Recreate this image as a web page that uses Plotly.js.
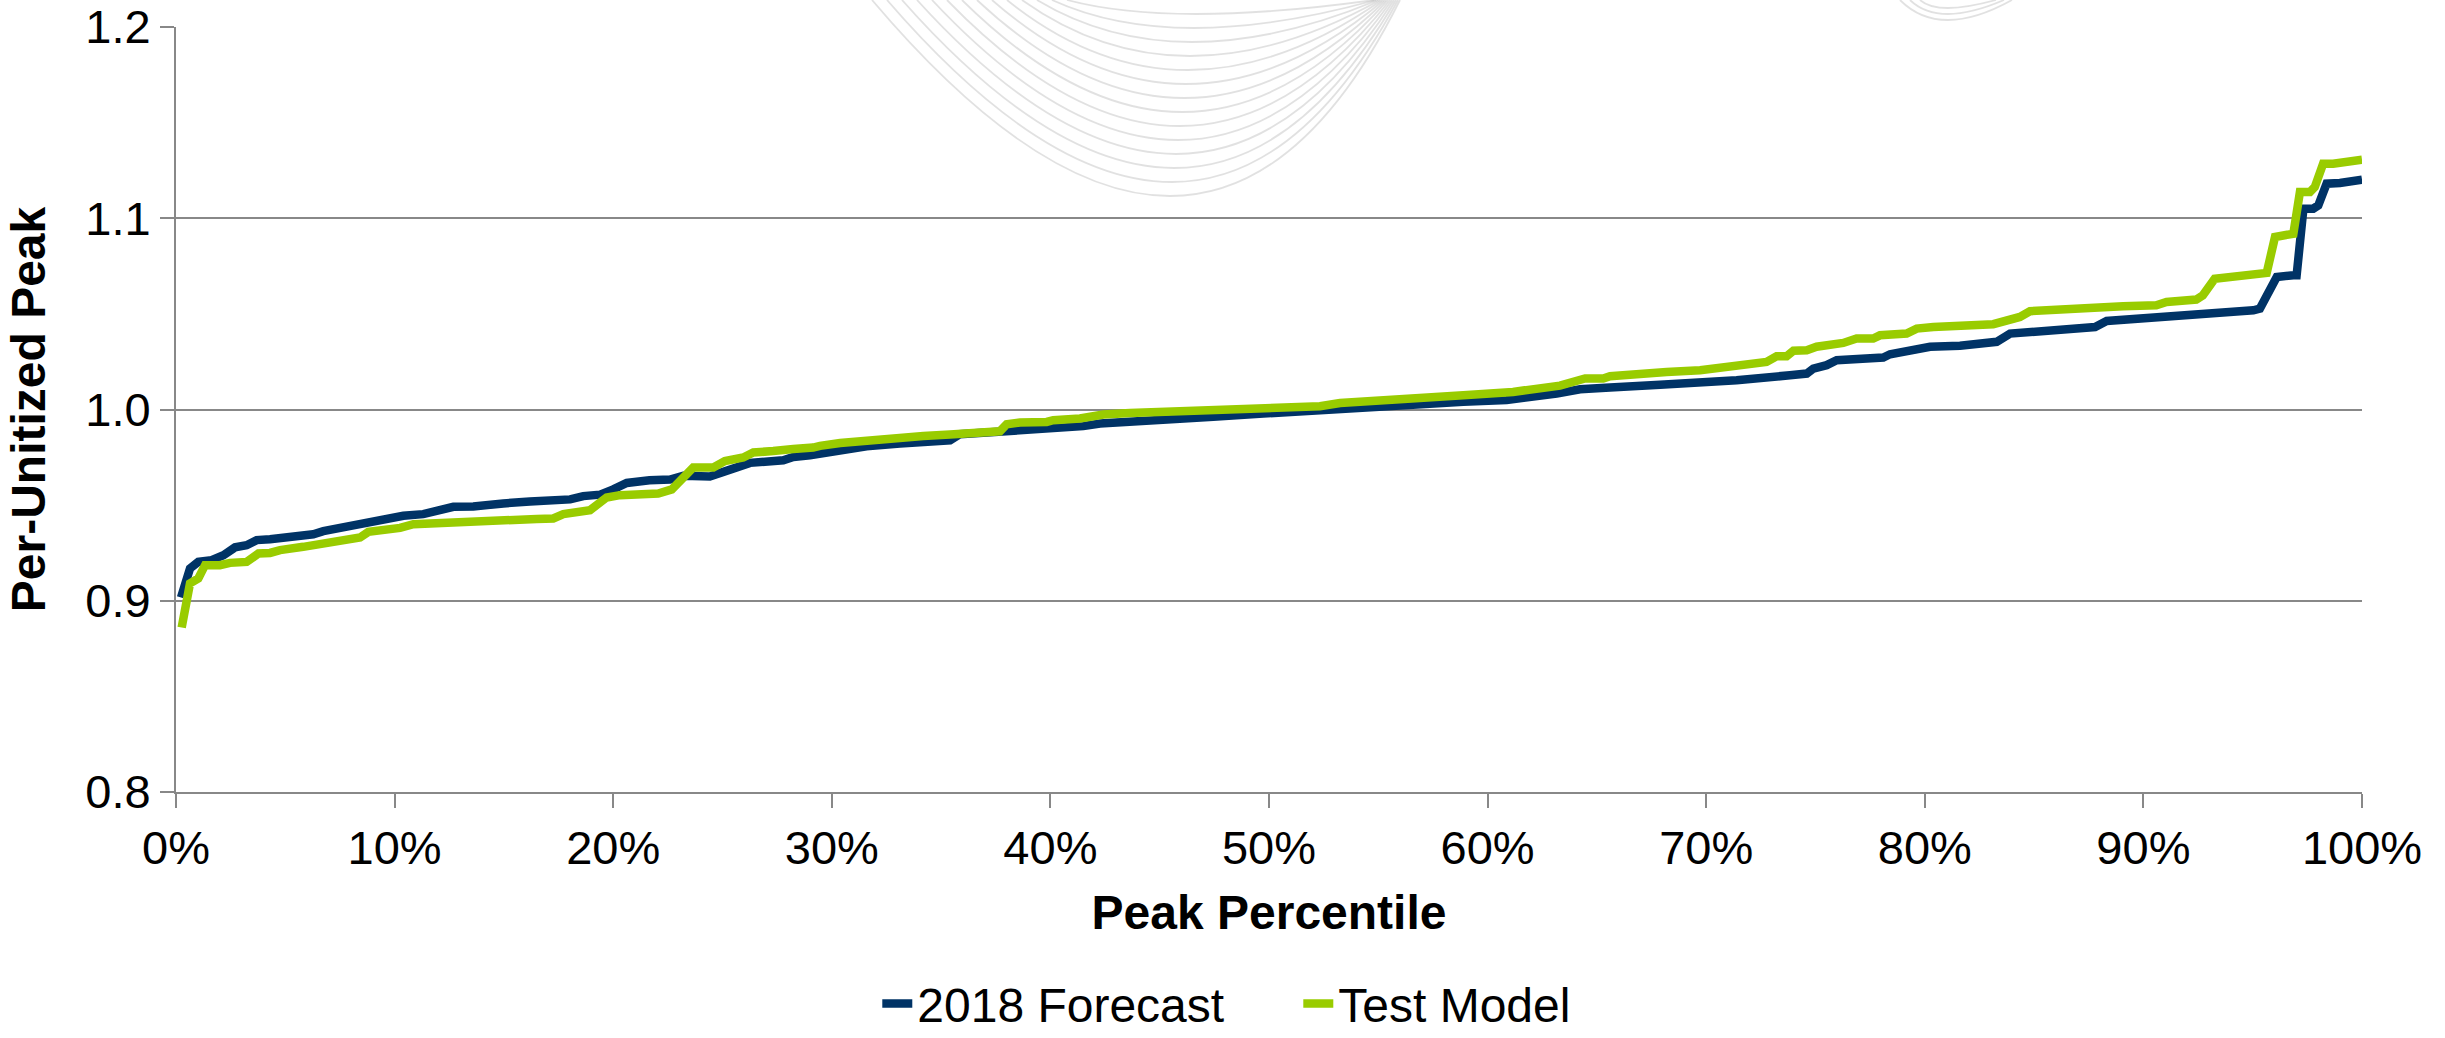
<!DOCTYPE html>
<html>
<head>
<meta charset="utf-8">
<script src="https://cdn.plot.ly/plotly-3.0.1.min.js"></script>
<style>
  html, body { margin: 0; padding: 0; background: #ffffff; }
  #chart { width: 2445px; height: 1038px; }
</style>
</head>
<body>
<div id="chart"></div>
<script>
// Peak percentile (x, %) and per-unitized peak (y) for each series
const forecastPct = [0.23, 0.64, 1.02, 1.63, 2.17, 2.70, 3.23, 3.69, 4.30, 5.82, 6.28, 6.74, 7.35, 7.96, 8.49, 9.18, 9.64, 10.40, 11.31, 11.77, 12.69, 13.60, 14.36, 14.97, 16.19, 17.26, 18.03, 18.63, 19.40, 20.00, 20.62, 21.66, 22.60, 23.21, 24.42, 25.04, 25.80, 26.26, 27.78, 28.24, 29.00, 30.07, 31.59, 33.12, 34.64, 35.41, 35.86, 37.69, 38.45, 39.98, 41.50, 42.27, 43.64, 45.93, 47.45, 49.74, 52.03, 53.55, 55.84, 56.60, 58.89, 60.87, 62.40, 63.16, 64.23, 65.29, 65.60, 67.89, 69.87, 71.39, 73.83, 74.60, 74.90, 75.51, 75.97, 77.01, 78.10, 78.41, 79.49, 80.24, 81.61, 82.83, 83.29, 83.90, 84.96, 86.18, 86.79, 87.79, 88.32, 89.54, 90.30, 91.06, 92.28, 92.59, 93.65, 95.03, 95.33, 95.79, 96.10, 96.86, 97.01, 97.32, 97.77, 98.00, 98.38, 98.99, 100];
const forecastPeak = [0.9017, 0.9169, 0.9203, 0.9212, 0.9238, 0.9279, 0.9290, 0.9317, 0.9322, 0.9339, 0.9348, 0.9364, 0.9378, 0.9386, 0.9407, 0.9418, 0.9432, 0.9444, 0.9453, 0.9467, 0.9491, 0.9493, 0.9505, 0.9509, 0.9519, 0.9527, 0.9530, 0.9547, 0.9555, 0.9582, 0.9616, 0.9630, 0.9634, 0.9653, 0.9650, 0.9674, 0.9700, 0.9721, 0.9735, 0.9752, 0.9761, 0.9783, 0.9808, 0.9822, 0.9830, 0.9839, 0.9871, 0.9883, 0.9892, 0.9904, 0.9913, 0.9927, 0.9935, 0.9944, 0.9962, 0.9979, 0.9996, 1.0005, 1.0017, 1.0031, 1.0040, 1.0049, 1.0066, 1.0084, 1.0106, 1.0106, 1.0115, 1.0130, 1.0139, 1.0153, 1.0179, 1.0188, 1.0214, 1.0232, 1.0258, 1.0263, 1.0272, 1.0289, 1.0307, 1.0328, 1.0333, 1.0345, 1.0354, 1.0397, 1.0406, 1.0415, 1.0423, 1.0431, 1.0463, 1.0472, 1.0484, 1.0489, 1.0496, 1.0505, 1.0507, 1.0519, 1.0528, 1.0624, 1.0693, 1.0702, 1.0702, 1.1050, 1.1050, 1.1067, 1.1181, 1.1184, 1.1202];

const testPct = [0.26, 0.64, 1.02, 1.33, 2.01, 2.47, 3.23, 3.77, 4.30, 4.76, 5.82, 6.59, 7.50, 8.04, 8.42, 8.80, 9.64, 10.25, 10.86, 11.93, 13.45, 14.97, 16.50, 17.26, 17.72, 18.94, 19.70, 20.31, 20.92, 22.06, 22.68, 23.66, 24.58, 25.11, 25.95, 26.41, 27.32, 27.94, 28.24, 29.15, 29.46, 30.38, 31.29, 32.20, 33.12, 34.19, 35.41, 36.17, 37.69, 38.00, 38.61, 39.83, 40.13, 41.35, 42.42, 43.64, 45.93, 48.98, 50.50, 52.33, 53.25, 54.31, 56.00, 56.60, 58.89, 61.16, 62.69, 63.31, 64.46, 65.29, 65.60, 67.89, 68.19, 69.72, 70.94, 72.00, 72.76, 73.22, 73.68, 73.99, 74.60, 75.05, 76.27, 76.88, 77.64, 77.95, 79.17, 79.63, 80.39, 83.13, 83.74, 84.35, 84.81, 85.42, 86.79, 89.07, 90.59, 91.06, 92.42, 92.72, 93.26, 94.09, 95.03, 95.64, 96.02, 96.86, 97.16, 97.62, 97.84, 98.22, 98.68, 100];
const testPeak = [0.8860, 0.9091, 0.9117, 0.9186, 0.9186, 0.9198, 0.9203, 0.9247, 0.9250, 0.9265, 0.9282, 0.9294, 0.9308, 0.9325, 0.9331, 0.9360, 0.9369, 0.9381, 0.9400, 0.9407, 0.9412, 0.9420, 0.9428, 0.9430, 0.9453, 0.9474, 0.9540, 0.9552, 0.9557, 0.9561, 0.9582, 0.9697, 0.9697, 0.9731, 0.9749, 0.9775, 0.9783, 0.9783, 0.9794, 0.9801, 0.9810, 0.9825, 0.9836, 0.9843, 0.9854, 0.9861, 0.9869, 0.9874, 0.9886, 0.9923, 0.9932, 0.9935, 0.9944, 0.9953, 0.9974, 0.9982, 0.9991, 1.0005, 1.0010, 1.0017, 1.0034, 1.0043, 1.0052, 1.0066, 1.0075, 1.0092, 1.0118, 1.0125, 1.0162, 1.0162, 1.0174, 1.0184, 1.0196, 1.0205, 1.0223, 1.0232, 1.0249, 1.0278, 1.0278, 1.0307, 1.0310, 1.0328, 1.0348, 1.0371, 1.0371, 1.0388, 1.0397, 1.0423, 1.0431, 1.0446, 1.0463, 1.0484, 1.0514, 1.0519, 1.0522, 1.0540, 1.0545, 1.0562, 1.0575, 1.0597, 1.0684, 1.0693, 1.0707, 1.0714, 1.0902, 1.0919, 1.1137, 1.1137, 1.1163, 1.1285, 1.1285, 1.1306];

const seriesNames = ['2018 Forecast', 'Test Model'];
const seriesColors = ['#003366', '#99cc00'];
const xTickVals = [0, 10, 20, 30, 40, 50, 60, 70, 80, 90, 100];
const xTickLabels = ['0%', '10%', '20%', '30%', '40%', '50%', '60%', '70%', '80%', '90%', '100%'];
const yTickVals = [0.8, 0.9, 1.0, 1.1, 1.2];
const yTickLabels = ['0.8', '0.9', '1.0', '1.1', '1.2'];

const W = 2445, H = 1038;
const M = { l: 176, r: 83, t: 27, b: 246 };
const FONT = 'Liberation Sans, Arial, sans-serif';

// Faint decorative swirl behind the plot, built as nested arcs in paper space
function toPaperX(px) { return (px - M.l) / (W - M.l - M.r); }
function toPaperY(py) { return (H - M.b - py) / (H - M.t - M.b); }
function arc(xl, xr, xb, yb) {
  const cx = 2 * (xb - 0.25 * (xl + xr));
  const cy = 2 * yb;
  return 'M' + toPaperX(xl) + ',' + toPaperY(0) +
         ' Q' + toPaperX(cx) + ',' + toPaperY(cy) +
         ' ' + toPaperX(xr) + ',' + toPaperY(0);
}
const swirlColor = 'rgba(175,175,175,0.38)';
const swirl = [];
for (let k = 0; k < 14; k++) {
  swirl.push({
    type: 'path', xref: 'paper', yref: 'paper', layer: 'below',
    path: arc(872 + 15 * k, 1400 - 2 * k, 1170 + 2 * k, 196 - 14 * k),
    line: { color: swirlColor, width: 1.8 }
  });
}
for (let k = 0; k < 3; k++) {
  swirl.push({
    type: 'path', xref: 'paper', yref: 'paper', layer: 'below',
    path: arc(1900 + 10 * k, 2012 - 8 * k, 1948, 20 - 6 * k),
    line: { color: swirlColor, width: 1.8 }
  });
}

const traces = [
  {
    x: forecastPct, y: forecastPeak, name: seriesNames[0],
    type: 'scatter', mode: 'lines',
    line: { color: seriesColors[0], width: 8.5 }
  },
  {
    x: testPct, y: testPeak, name: seriesNames[1],
    type: 'scatter', mode: 'lines',
    line: { color: seriesColors[1], width: 8.5 }
  }
];

const layout = {
  width: W, height: H,
  margin: M,
  paper_bgcolor: '#ffffff',
  plot_bgcolor: 'rgba(0,0,0,0)',
  font: { family: FONT, size: 47, color: '#000000' },
  showlegend: true,
  legend: {
    orientation: 'h',
    xref: 'container', yref: 'container',
    x: 0.531, xanchor: 'center',
    y: 0.033, yanchor: 'middle',
    entrywidth: 376, entrywidthmode: 'pixels',
    font: { family: FONT, size: 48, color: '#000000' },
    bgcolor: 'rgba(0,0,0,0)'
  },
  xaxis: {
    range: [0, 100],
    tickvals: xTickVals,
    ticktext: xTickLabels,
    showgrid: false,
    zeroline: false,
    showline: true, linecolor: '#888888', linewidth: 2,
    ticks: 'outside', ticklen: 14, tickwidth: 2, tickcolor: '#888888',
    tickfont: { family: FONT, size: 47, color: '#000000' },
    title: { text: '<b>Peak Percentile</b>', font: { family: FONT, size: 48, color: '#000000' }, standoff: 22 },
    automargin: false
  },
  yaxis: {
    range: [0.8, 1.2],
    tickvals: yTickVals,
    ticktext: yTickLabels,
    showgrid: true, gridcolor: '#888888', gridwidth: 2,
    zeroline: false,
    showline: true, linecolor: '#888888', linewidth: 2,
    ticks: 'outside', ticklen: 14, tickwidth: 2, tickcolor: '#888888',
    tickfont: { family: FONT, size: 47, color: '#000000' },
    title: { text: '<b>Per-Unitized Peak</b>', font: { family: FONT, size: 48, color: '#000000' }, standoff: 24 },
    automargin: false
  },
  shapes: swirl
};

Plotly.newPlot('chart', traces, layout, { displayModeBar: false, staticPlot: true });
</script>
</body>
</html>
